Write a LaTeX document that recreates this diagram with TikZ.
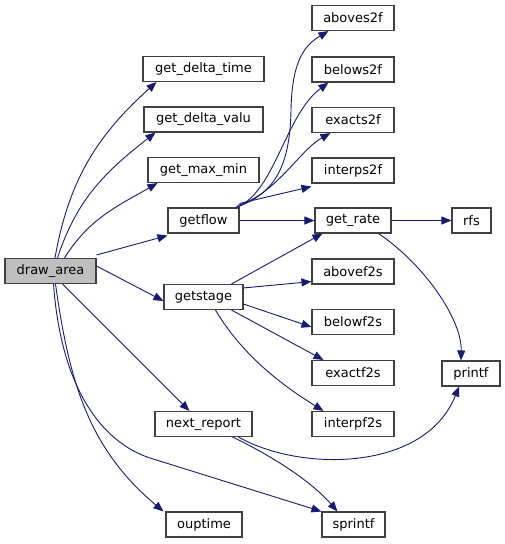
\documentclass[tikz,border=0pt]{standalone}
\usepackage{fontspec}
\setmainfont{DejaVu Sans}
\usetikzlibrary{arrows.meta}
\definecolor{edgec}{HTML}{191970}
\definecolor{boxc}{HTML}{404040}
\tikzset{
  fn/.style={draw=boxc, line width=1.1pt, fill=white, rectangle, inner sep=0pt,
    minimum height=25pt, font=\fontsize{13}{15}\selectfont},
  root/.style={fn, fill=black!25},
  edge/.style={draw=edgec, line width=0.9pt, -{Triangle[length=10pt,width=8pt]}}
}
\begin{document}
\begin{tikzpicture}[x=1pt,y=-1pt]
\useasboundingbox (0,0) rectangle (505,544);
% column 1
\node[root, minimum width=91pt] (da) at (50.5,271) {draw\_area};
% column 2
\node[fn, minimum width=121pt] (gdt) at (203.5,69) {get\_delta\_time};
\node[fn, minimum width=119pt] (gdv) at (203.5,119.5) {get\_delta\_valu};
\node[fn, minimum width=111pt] (gmm) at (203.5,170) {get\_max\_min};
\node[fn, minimum width=71pt] (gf) at (203.5,220.5) {getflow};
\node[fn, minimum width=79pt] (gs) at (203.5,297) {getstage};
\node[fn, minimum width=97pt] (nr) at (203.5,424) {next\_report};
\node[fn, minimum width=76pt] (ou) at (204,524.5) {ouptime};
% column 3
\node[fn, minimum width=82pt] (as2f) at (353,18) {aboves2f};
\node[fn, minimum width=82pt] (bs2f) at (353,69.5) {belows2f};
\node[fn, minimum width=82pt] (es2f) at (353,120) {exacts2f};
\node[fn, minimum width=82pt] (is2f) at (353,170.5) {interps2f};
\node[fn, minimum width=76pt] (gr) at (353,220.5) {get\_rate};
\node[fn, minimum width=82pt] (af2s) at (353,271.5) {abovef2s};
\node[fn, minimum width=82pt] (bf2s) at (353,322) {belowf2s};
\node[fn, minimum width=82pt] (ef2s) at (353,373) {exactf2s};
\node[fn, minimum width=82pt] (if2s) at (353,424) {interpf2s};
\node[fn, minimum width=63pt] (sp) at (353.5,524.5) {sprintf};
% column 4
\node[fn, minimum width=39pt] (rfs) at (471.5,220.5) {rfs};
\node[fn, minimum width=58pt] (pf) at (471,373.5) {printf};

% draw_area edges
\draw[edge] ([xshift=4.5pt]da.north) to[out=80,in=-138] ([xshift=14pt]gdt.south west);
\draw[edge] ([xshift=7pt]da.north) to[out=72,in=-142] ([xshift=12pt]gdv.south west);
\draw[edge] ([xshift=14pt]da.north) to[out=58,in=-150] ([xshift=10pt]gmm.south west);
\draw[edge] ([yshift=3pt]da.north east) -- ([yshift=-2pt]gf.south west);
\draw[edge] ([yshift=5pt]da.east) -- ([yshift=-4pt]gs.west);
\draw[edge] ([xshift=12pt]da.south) -- ([xshift=35pt]nr.north west);
\draw[edge] ([xshift=5pt]da.south) to[out=-82,in=140] ([xshift=-2pt]ou.north west);
\draw[edge] ([xshift=3pt]da.south) .. controls (62,400) and (110,445) .. (150,458) -- (sp.north west);

% getflow edges
\draw[edge] ([xshift=-4pt]gf.north east) .. controls (272,195) and (290,170) .. (291,110)
  .. controls (292,60) and (305,45) .. ([xshift=17pt]as2f.south west);
\draw[edge] ([xshift=-3pt]gf.north east) .. controls (275,192) and (285,115) .. ([xshift=17pt]bs2f.south west);
\draw[edge] ([xshift=-2pt,yshift=2pt]gf.north east) .. controls (275,195) and (300,150) .. ([xshift=19pt]es2f.south west);
\draw[edge] ([yshift=4pt]gf.north east) -- ([yshift=-3pt]is2f.south west);
\draw[edge] (gf.east) -- (gr.west);

% getstage edges
\draw[edge] ([xshift=-12pt]gs.north east) -- ([xshift=8pt]gr.south west);
\draw[edge] ([yshift=-4pt]gs.north east) -- ([yshift=3pt]af2s.south west);
\draw[edge] ([yshift=6pt]gs.south east) -- ([yshift=-5pt]bf2s.west);
\draw[edge] ([xshift=-12pt]gs.south east) -- ([xshift=12pt]ef2s.north west);
\draw[edge] ([xshift=12pt]gs.south) .. controls (245,360) and (290,390) .. ([xshift=12pt]if2s.north west);

% get_rate edges
\draw[edge] (gr.east) -- (rfs.west);
\draw[edge] ([xshift=-13pt]gr.south east) .. controls (425,265) and (462,320) .. ([xshift=-10pt]pf.north);

% next_report edges
\draw[edge] ([xshift=-14pt]nr.south east) .. controls (300,472) and (425,472) .. ([xshift=-12pt]pf.south);
\draw[edge] ([xshift=-20pt]nr.south east) .. controls (270,455) and (310,480) .. ([xshift=-16pt]sp.north);
\end{tikzpicture}
\end{document}
